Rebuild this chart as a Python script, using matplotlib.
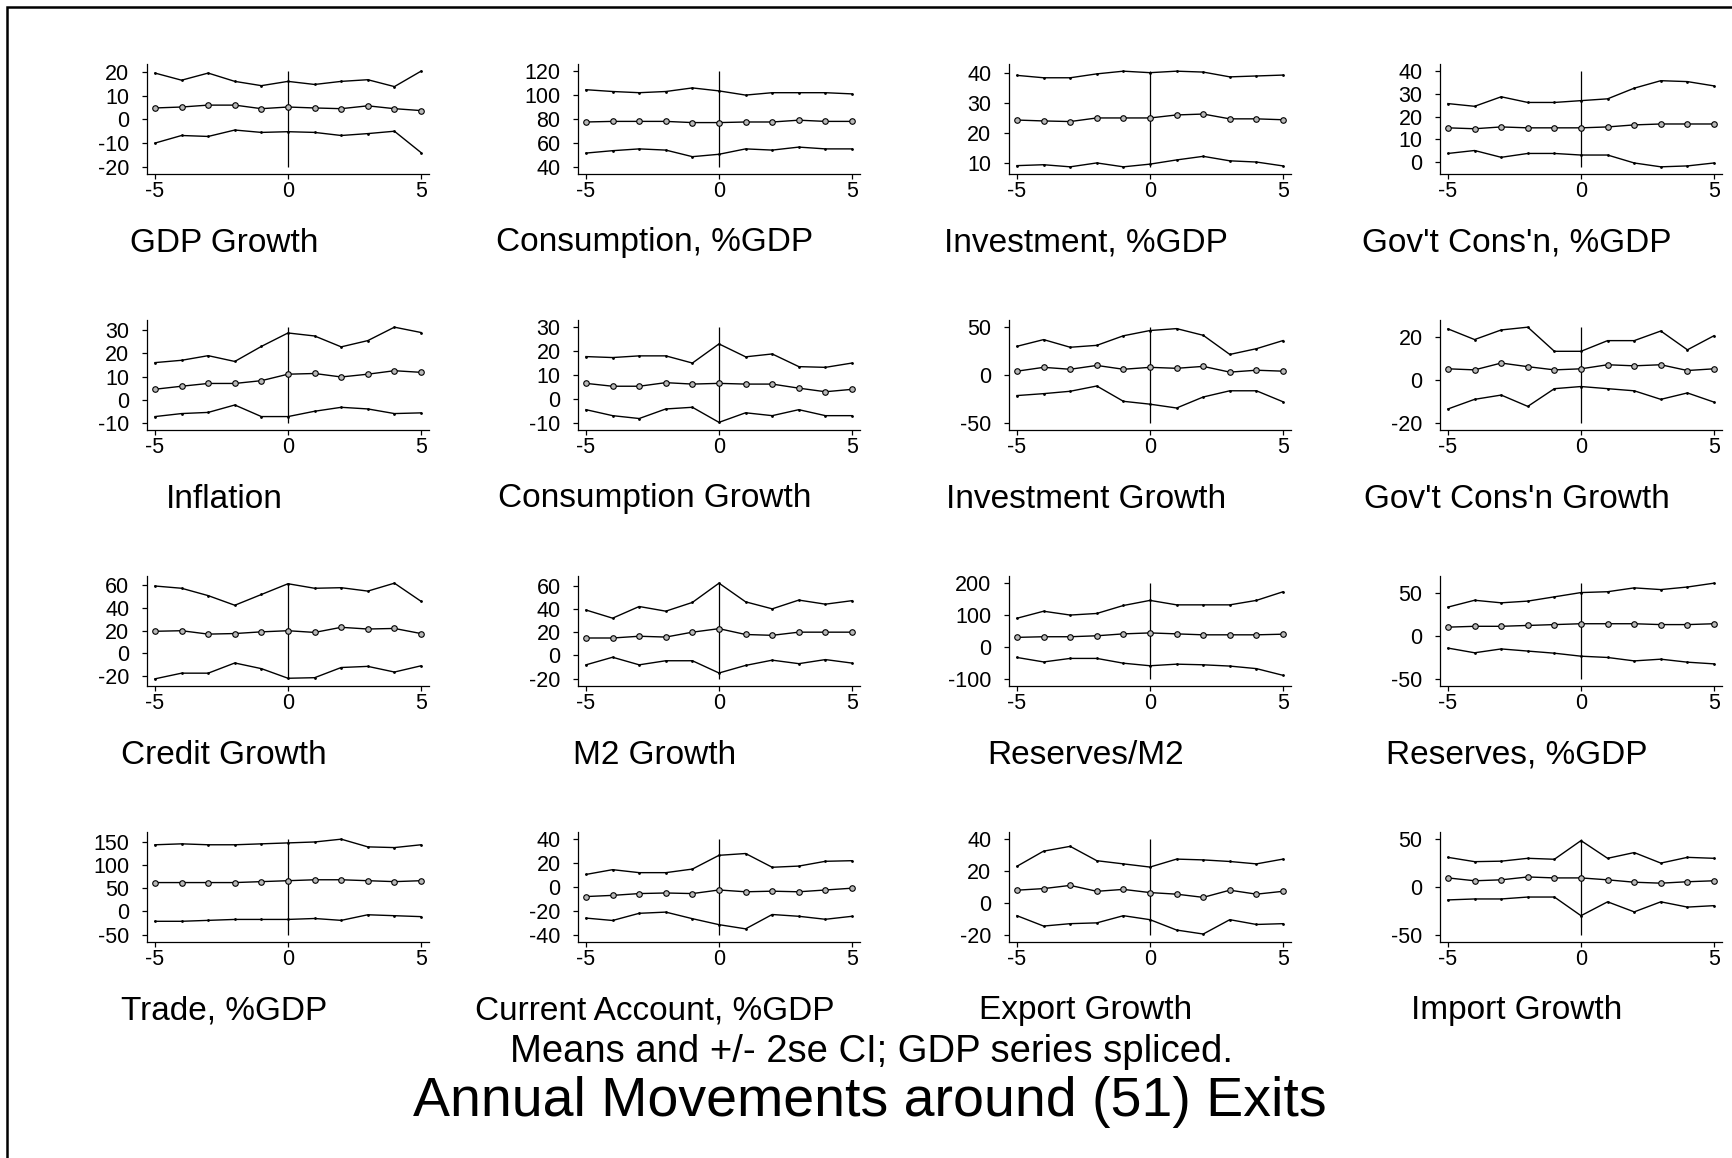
import matplotlib
matplotlib.use("Agg")
import matplotlib.pyplot as plt
from matplotlib.patches import Rectangle

plt.rcParams['font.family'] = ['Liberation Sans', 'DejaVu Sans']
plt.rcParams['axes.unicode_minus'] = False

# --- data: years around exit, and mean / +-2se bands per panel ---
years = [-5, -4, -3, -2, -1, 0, 1, 2, 3, 4, 5]

titles = ["GDP Growth", "Consumption, %GDP", "Investment, %GDP", "Gov't Cons'n, %GDP",
          "Inflation", "Consumption Growth", "Investment Growth", "Gov't Cons'n Growth",
          "Credit Growth", "M2 Growth", "Reserves/M2", "Reserves, %GDP",
          "Trade, %GDP", "Current Account, %GDP", "Export Growth", "Import Growth"]

yticks = [[-20, -10, 0, 10, 20], [40, 60, 80, 100, 120], [10, 20, 30, 40], [0, 10, 20, 30, 40],
          [-10, 0, 10, 20, 30], [-10, 0, 10, 20, 30], [-50, 0, 50], [-20, 0, 20],
          [-20, 0, 20, 40, 60], [-20, 0, 20, 40, 60], [-100, 0, 100, 200], [-50, 0, 50],
          [-50, 0, 50, 100, 150], [-40, -20, 0, 20, 40], [-20, 0, 20, 40], [-50, 0, 50]]

upper = [
    [19.5, 16.5, 19.5, 16, 14.2, 16, 14.7, 16, 16.7, 13.8, 20.3],
    [104.5, 103, 102, 103, 106, 103.5, 100, 102, 102, 102, 101],
    [39.2, 38.4, 38.4, 39.7, 40.6, 40.1, 40.6, 40.3, 38.7, 39, 39.3],
    [25.7, 24.5, 28.7, 26.2, 26.2, 27, 27.8, 32.5, 35.8, 35.4, 33.5],
    [16, 17, 19, 16.5, 23, 28.8, 27.5, 22.8, 25.5, 31.3, 29],
    [17.7, 17.3, 18, 18, 15, 23, 17.6, 18.8, 13.5, 13.2, 15],
    [30, 37, 29, 31, 41, 46.5, 48.5, 41.5, 21.5, 27.5, 36],
    [24, 19, 23.5, 24.8, 13.5, 13.5, 18.5, 18.5, 23, 14.2, 20.8],
    [59.5, 57.5, 51, 42.5, 52, 61.5, 57.5, 58, 55, 62, 46],
    [39, 32, 42, 38, 45.5, 62, 46, 40, 47.5, 44, 47],
    [90, 112, 100, 105, 130, 146, 132, 132, 132, 146, 173],
    [34, 42, 39, 41, 46, 51, 52, 56.5, 54.5, 57.5, 62],
    [143, 145, 143, 143, 145, 147, 149, 155, 138.5, 137, 143],
    [10.5, 14.5, 12, 12, 15, 26.5, 28, 16.5, 17.5, 21.5, 22],
    [23, 32.5, 35.5, 26.5, 24.5, 22.5, 27.5, 27, 26, 24.5, 27.5],
    [31, 26.5, 27, 30, 29, 48.5, 30, 36, 25, 31, 30],
]

means = [
    [4.8, 5.2, 6, 6, 4.5, 5.2, 4.8, 4.5, 5.7, 4.5, 3.7],
    [77.5, 78, 78, 78, 77, 77, 77.5, 77.5, 79, 78, 78],
    [24.3, 24, 23.8, 25, 25, 25, 26, 26.3, 24.7, 24.7, 24.4],
    [15, 14.6, 15.4, 15, 15, 15, 15.4, 16.3, 16.7, 16.7, 16.7],
    [4.5, 5.8, 7, 7, 8.2, 11, 11.3, 9.8, 11, 12.5, 11.8],
    [6.5, 5.3, 5.3, 6.8, 6.2, 6.5, 6.2, 6.2, 4.5, 3, 4],
    [4, 8, 6, 10, 6, 8, 7, 9, 3, 5, 4],
    [5.3, 4.8, 8, 6.3, 4.8, 5.3, 7.2, 6.7, 7.2, 4.5, 5.3],
    [19.5, 20, 17, 17.5, 19, 20, 18.5, 23, 21.5, 22, 17.5],
    [15, 15, 16.5, 15.8, 20, 23, 18, 17.3, 20, 20, 20],
    [30, 32, 32, 35, 41, 44, 41, 38, 38, 38, 40],
    [10.5, 11.5, 11.5, 12.5, 13.5, 14.5, 14.5, 14.5, 13.5, 13.5, 14.5],
    [62, 62, 62, 62, 64, 66, 68, 68, 66, 64, 66],
    [-8, -7, -5.5, -5, -5.5, -2.5, -4, -3.5, -4, -2.5, -1],
    [8, 9, 11, 7.3, 8.5, 6.5, 5.5, 3.5, 8, 5.5, 7.3],
    [9.5, 6.5, 7.5, 10.5, 9.5, 9.5, 7.5, 5, 4, 5.5, 6.5],
]

lower = [
    [-10, -6.8, -7.2, -4.5, -5.5, -5.2, -5.5, -6.8, -6, -5, -14],
    [51.5, 53.5, 55, 54, 48.5, 50.5, 55, 54, 56.5, 55, 55],
    [9.1, 9.4, 8.7, 10, 8.7, 9.6, 11, 12.2, 10.7, 10.3, 9],
    [3.7, 5, 2, 3.7, 3.7, 3, 3, -0.5, -2.2, -1.8, -0.5],
    [-7.3, -6, -5.5, -2.3, -7.3, -7.3, -5, -3.3, -4, -6, -5.7],
    [-4.5, -7, -8.2, -4.2, -3.5, -9.8, -5.8, -7, -4.5, -7, -7],
    [-21.5, -19.5, -17, -11.5, -27.5, -30.5, -34.5, -23, -16.5, -16.5, -28],
    [-13.5, -9, -7, -12.3, -4, -3, -4, -5, -9, -6, -10.3],
    [-22.5, -17.5, -17.5, -8.5, -13.5, -22, -21.5, -12.5, -11.5, -16.5, -11],
    [-8, -1.5, -8, -4.5, -4.5, -15, -8.5, -4, -7, -3.5, -6.5],
    [-33, -47, -36, -36, -51, -59, -54, -56, -60, -68, -89],
    [-14, -19.5, -15, -17.5, -20, -23.5, -25, -29, -27, -30.5, -32.5],
    [-21, -21, -19, -17, -17, -17, -15, -19, -7, -9, -11],
    [-26, -28, -22, -21, -26.5, -31.5, -35, -23, -24.5, -27, -24.5],
    [-8, -14.5, -13, -12.5, -8, -10.5, -17, -19.5, -10.5, -13.5, -13],
    [-13.5, -12.5, -12.5, -10.5, -10.5, -30, -15.5, -26, -15.5, -21, -19.5],
]

W, H = 1732, 1158
fig = plt.figure(figsize=(W / 100, H / 100), dpi=100)

# outer frame (Stata graph border, right/bottom run off the canvas)
fig.patches.append(Rectangle((7 / W, -0.05), 1.2, 1 - 7 / H + 0.05, transform=fig.transFigure,
                             fill=False, lw=1.8, ec='black'))

for k in range(16):
    i, j = divmod(k, 4)
    left = 147 + j * 431
    bottom = 174 + i * 256
    ax = fig.add_axes([left / W, 1 - bottom / H, 282 / W, 110 / H])

    lo = min(yticks[k][0], min(lower[k]))
    hi = max(yticks[k][-1], max(upper[k]))
    pad = 0.075 * (hi - lo)

    ax.vlines(0, lo, hi, color='black', lw=0.9)
    ax.plot(years, upper[k], color='black', lw=1.0, marker='.', ms=2)
    ax.plot(years, lower[k], color='black', lw=1.0, marker='.', ms=2)
    ax.plot(years, means[k], color='black', lw=1.0, marker='o', ms=4,
            mfc='#b8b8b8', mec='black', mew=0.8)

    ax.set_xlim(-5.3, 5.3)
    ax.set_ylim(lo - pad, hi + pad)
    ax.set_xticks([-5, 0, 5])
    ax.set_yticks(yticks[k])
    ax.spines['top'].set_visible(False)
    ax.spines['right'].set_visible(False)
    ax.spines['left'].set_linewidth(0.9)
    ax.spines['bottom'].set_linewidth(0.9)
    ax.tick_params(axis='y', direction='out', length=3.6, width=0.9, pad=9, labelsize=15.5)
    ax.tick_params(axis='x', direction='out', length=3.6, width=0.9, pad=1.5, labelsize=15.5)
    ax.patch.set_alpha(0)

    fig.text((224 + j * 431) / W, 1 - (243 + i * 256) / H, titles[k],
             ha='center', va='center', fontsize=24)

fig.text(872 / W, 1 - 1052 / H, "Means and +/- 2se CI; GDP series spliced.",
         ha='center', va='center', fontsize=27.5)
fig.text(870 / W, 1 - 1102 / H, "Annual Movements around (51) Exits",
         ha='center', va='center', fontsize=40)

fig.savefig("out.png", dpi=100)
